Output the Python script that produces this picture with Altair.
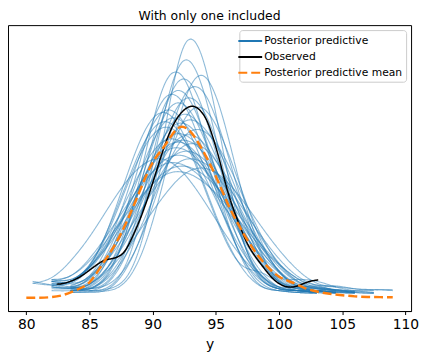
import altair as alt
import pandas as pd

# ---- data ----
grid_x = [80.5, 82, 83.5, 85, 86.5, 88, 89.5, 91, 92.5, 94, 95.5, 97,
          98.5, 100, 101.5, 103, 104.5, 106, 107.5, 109]

# index into grid_x where each posterior predictive draw starts
pp_start = [2, 2, 1, 2, 2, 1, 2, 1, 3, 1, 2, 0, 2, 1, 1, 2, 1, 2, 1, 2,
            1, 0, 2, 1, 2, 1, 2, 1, 1, 2, 2, 0, 1, 3, 1]

pp_draws = [
    [3, 3.5, 5, 12, 40, 92, 136, 128, 82, 35, 11, 5, 4, 3],
    [4, 4, 6, 20, 56, 102, 128, 112, 72, 34, 12, 5, 4, 4, 3],
    [6, 5, 5, 13, 38, 80, 116, 118, 89, 51, 22, 7, 4, 3, 3],
    [5, 5, 9.5, 28, 63, 102, 118, 101, 66, 33, 13, 6, 6, 4, 3, 3],
    [3, 3, 5, 17, 42, 79, 109, 111, 87, 53, 25, 9.5, 5, 4, 3],
    [8, 6, 7.5, 22, 50, 85, 108, 104, 79, 48, 23, 8.5, 4, 3, 2.5],
    [4, 4, 8.6, 25, 54, 88, 107, 101, 76, 46, 22, 8.6, 5, 5.5, 3.5, 2.5],
    [4, 4, 6.5, 17, 40, 72, 99, 104, 87, 60, 33, 15, 6, 4, 3, 2.5],
    [5, 7.5, 18, 40, 70, 96, 102, 86, 59, 32, 14, 6, 4, 3],
    [9, 8, 12, 29.5, 57, 86, 101, 94, 72, 46, 23, 10, 5, 4, 3.5],
    [4, 6, 15, 34.5, 62, 88, 99, 90, 68, 43, 23, 10, 6, 6.5, 4, 3, 2.5],
    [9, 7, 6, 11, 25.7, 49.5, 76, 95, 94, 77, 52, 28.7, 13, 5, 4, 3, 2.5],
    [5, 5.5, 12, 28, 53, 79, 95, 92, 76, 52, 30, 14.6, 6, 4, 3.5, 3],
    [6, 5.5, 8.7, 21, 42, 67, 88, 94, 83, 61.5, 39, 20, 9, 5, 4, 3],
    [10, 10, 17.6, 36, 61, 83, 92, 85, 67, 46, 26, 13, 6, 4, 3],
    [4, 5, 11, 24.6, 45, 69, 87, 90, 78, 57, 35, 18, 9, 6, 4.5, 3, 2.5],
    [6, 5.5, 10.7, 24, 44, 68, 85, 88, 78, 59, 39, 22, 11, 5, 4, 3, 2.5],
    [6, 7.3, 17.4, 34.5, 57, 77, 87.6, 83.6, 68, 47.5, 28.6, 14.7, 6.4, 4, 3],
    [9, 9, 16.7, 33, 54, 73.5, 85, 83, 71, 52, 33.5, 18.6, 9, 6, 6, 4],
    [6, 10, 22, 40, 61, 79, 85, 78.5, 63, 44, 26.6, 14, 6.4, 5, 4.5, 4, 4.5, 4.5],
    [5, 5, 7.6, 17, 32, 52, 70.5, 82, 81, 69, 51.6, 33.4, 18.8, 9, 5, 4, 3],
    [8, 7, 8.5, 16.4, 31, 49, 67, 79, 80, 71, 55, 37.5, 22.5, 12, 5.6, 4, 3],
    [6.5, 11.8, 23.4, 39.3, 58, 72.6, 79, 75, 62, 45.5, 29.6, 16.7, 8.4, 5, 4, 3.5, 3],
    [8, 9, 16.6, 30, 46.7, 63.4, 74.6, 76.5, 69.5, 56, 40, 25.8, 14.7, 7.5, 5.5, 4.5, 3.5],
    [7, 11.2, 21.4, 35.6, 52, 66.5, 74.5, 73, 64, 49.6, 34.3, 21.2, 11.6, 7, 6],
    [10, 12, 21.3, 35, 50.4, 64.4, 72.3, 71.5, 63.8, 50.8, 36.8, 23.7, 13.7, 7.2, 5, 4, 3],
    [9, 16.8, 28.5, 43, 57.5, 68, 71, 66.5, 56.3, 43, 29.7, 18.5, 10.4, 7, 6.5, 5, 4],
    [9, 12, 20, 32.3, 45.8, 58, 66.4, 67.7, 62.5, 52.8, 40.5, 28, 18, 10.3, 5.5, 4.5, 3.5],
    [9, 10, 17.4, 38, 66.7, 91.6, 99.8, 87.4, 62.5, 36.4, 17, 6.6, 4, 3, 2.5],
    [4, 5, 14, 37.4, 72.7, 104.6, 110.4, 89.6, 56.4, 27.9, 10.6, 5, 4, 3],
    [5, 7.7, 15.4, 27, 41.7, 56, 66.7, 70, 65, 53.6, 39.5, 26, 15, 8, 6, 5, 4.5, 4],
    [8, 11, 20, 33, 48.7, 63.4, 73, 74.5, 66.8, 53, 37, 22.6, 12.3, 5.8, 4, 3],
    [7, 9, 18, 37.6, 62.8, 85.8, 95, 85, 61, 35, 18, 14, 8, 4, 3.5, 3],
    [4, 4, 10, 30.7, 67, 105.8, 119.7, 98.4, 59, 26.4, 8.5, 4, 3],
    [7, 8, 15.5, 29.3, 48.4, 67.5, 81, 83.3, 73, 55, 35, 19.5, 11, 10, 9, 6, 4, 3],
]

obs_x = [82.4, 83, 84, 85, 86, 86.6, 87.4, 88, 88.6, 89.2, 90, 91, 92, 93.1,
         94, 94.6, 95.3, 96, 96.8, 97.6, 98.6, 99.7, 100.7, 101.5, 102.3, 103.1]
obs_y = [7.5, 8, 10.5, 15, 19.8, 21, 22.8, 27.5, 36, 46, 62, 83, 97.5, 103.3,
         99, 90, 74, 56, 40.5, 28, 18, 9.3, 6, 6.6, 8.7, 9.8]

mean_x = [80, 81, 82, 83, 84, 85, 86, 87, 88, 89, 90, 91, 92, 93, 94, 95, 96,
          97, 98, 99, 100, 101, 102, 103, 104, 105, 106, 107, 108, 109]
mean_y = [0.1, 0.2, 0.5, 1.8, 4.5, 8.5, 18, 28.5, 42, 58, 73, 82.5, 91.5, 89.5,
          79, 65.5, 50, 37, 26, 17.5, 11.5, 8.5, 5.5, 3.5, 2.3, 1.5, 0.9, 0.6,
          0.5, 0.4]

labels = ["Posterior predictive", "Observed", "Posterior predictive mean"]
x_ticks = [80, 85, 90, 95, 100, 105, 110]

# ---- tables ----
rows = []
for i, (start, vals) in enumerate(zip(pp_start, pp_draws)):
    for xv, yv in zip(grid_x[start:start + len(vals)], vals):
        rows.append({"draw": i, "x": xv, "y": yv, "kind": labels[0]})
df_pp = pd.DataFrame(rows)
df_obs = pd.DataFrame({"x": obs_x, "y": obs_y, "kind": labels[1]})
df_mean = pd.DataFrame({"x": mean_x, "y": mean_y, "kind": labels[2]})

FONT = "DejaVu Sans"
color_scale = alt.Scale(domain=labels, range=["#1f77b4", "#000000", "#ff7f0e"])
dash_scale = alt.Scale(domain=labels, range=[[1, 0], [1, 0], [9, 4]])

legend = alt.Legend(title=None, orient="top-right", offset=5,
                    symbolType="M-2,0H2", symbolSize=144, symbolStrokeWidth=2,
                    symbolOpacity=1,
                    labelFont=FONT, labelFontSize=10.8, labelColor="black",
                    labelOffset=7, padding=4, rowPadding=4,
                    strokeColor="#cccccc", fillColor="white", cornerRadius=3)

x_enc = alt.X("x:Q",
              scale=alt.Scale(domain=[78.55, 110.45], nice=False, zero=False),
              axis=alt.Axis(values=x_ticks, title="y", format="d"))
y_enc = alt.Y("y:Q", scale=alt.Scale(domain=[-7, 147], nice=False, zero=False),
              axis=None)
c_enc = alt.Color("kind:N", scale=color_scale, legend=legend)
d_enc = alt.StrokeDash("kind:N", scale=dash_scale, legend=legend)

pp = alt.Chart(df_pp).mark_line(interpolate="natural", strokeWidth=1.1,
                                opacity=0.5).encode(
    x=x_enc, y=y_enc, detail="draw:N", color=c_enc, strokeDash=d_enc)
obs = alt.Chart(df_obs).mark_line(interpolate="natural", strokeWidth=1.5).encode(
    x=x_enc, y=y_enc, color=c_enc, strokeDash=d_enc)
mean = alt.Chart(df_mean).mark_line(interpolate="natural", strokeWidth=2.5).encode(
    x=x_enc, y=y_enc, color=c_enc, strokeDash=d_enc)

chart = alt.layer(pp, obs, mean).properties(
    width=406, height=288,
    title=alt.TitleParams("With only one included", font=FONT, fontSize=12.5,
                          fontWeight="normal", color="black", offset=3,
                          anchor="middle"),
    autosize=alt.AutoSizeParams(type="none"),
    padding={"left": 0, "top": 16, "right": 10, "bottom": 40},
).configure_view(stroke="black", strokeWidth=1).configure_axis(
    labelFont=FONT, titleFont=FONT, labelFontSize=14, titleFontSize=14,
    titleFontWeight="normal", labelColor="black", titleColor="black",
    tickColor="black", domainColor="black", tickSize=3.5, grid=False,
    labelPadding=3, titlePadding=6, domainWidth=1, tickWidth=1,
)

chart.save("out.html", embed_options={"renderer": "svg", "actions": False})
